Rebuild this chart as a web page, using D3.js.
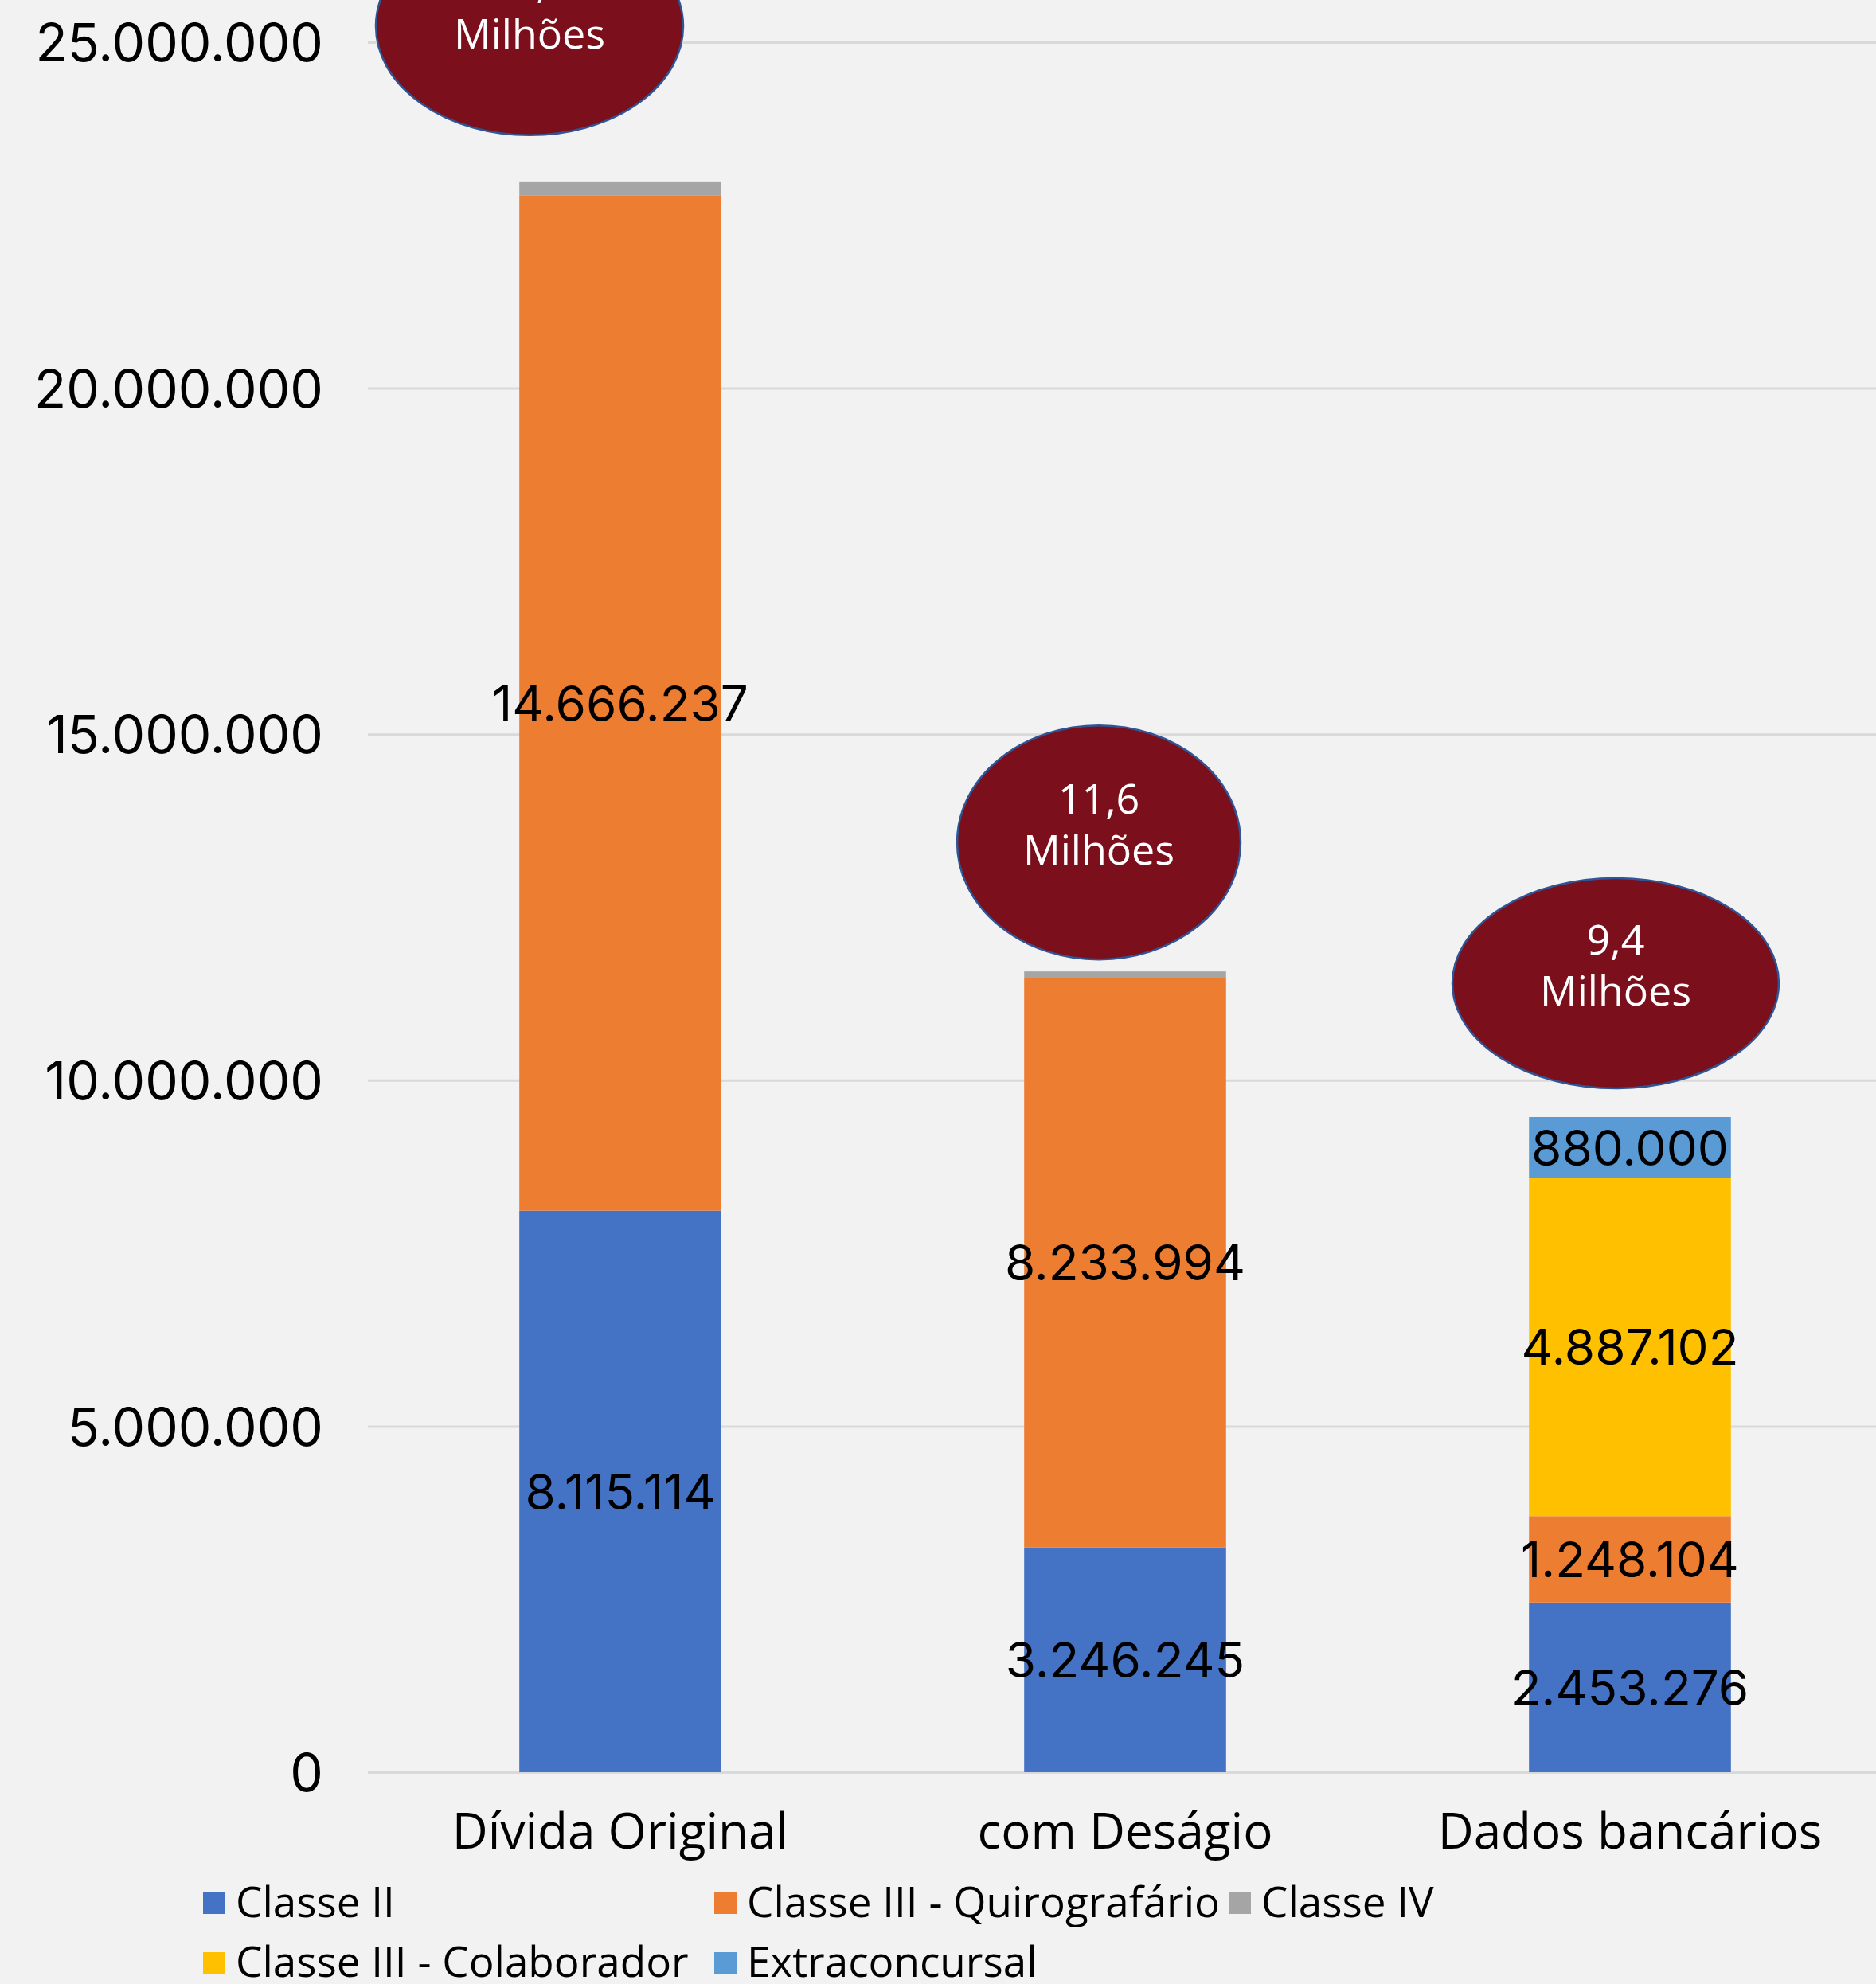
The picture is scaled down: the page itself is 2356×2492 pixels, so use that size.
<!DOCTYPE html>
<html>
<head>
<meta charset="utf-8">
<script src="https://cdn.jsdelivr.net/npm/d3@7"></script>
<style>
  body { margin: 0; background: #f2f2f2; }
  .grid line { stroke: #d9d9d9; stroke-width: 3; }
  .ytick text { font-family: Inter, sans-serif; font-size: 66px; fill: #000; }
  .xtick text { font-family: "Open Sans", sans-serif; font-size: 62px; fill: #000; }
  .valueText { font-family: Inter, sans-serif; font-size: 62px; fill: #000; text-anchor: middle; }
  .bubbleText { font-family: "Open Sans", sans-serif; font-size: 52px; fill: #fff; text-anchor: middle; }
  .legendText { font-family: "Open Sans", sans-serif; font-size: 53px; fill: #000; }
</style>
</head>
<body>
<div id="chart"></div>
<script>
// data
var categories = ['Dívida Original', 'com Deságio', 'Dados bancários'];

var seriesNames = ['Classe II', 'Classe III - Quirografário', 'Classe IV', 'Classe III - Colaborador', 'Extraconcursal'];
var seriesColors = ['#4472c4', '#ed7d31', '#a5a5a5', '#ffc000', '#5b9bd5'];

var classeII = [8115114, 3246245, 2453276];
var quirografario = [14666237, 8233994, 1248104];
var classeIV = [207000, 92000, 0];
var colaborador = [0, 0, 4887102];
var extraconcursal = [0, 0, 880000];

var yTicks = [0, 5000000, 10000000, 15000000, 20000000, 25000000];
var totalLabels = ['23,0', '11,6', '9,4'];

// svg size
var svgWidth = 2356;
var svgHeight = 2492;

// plot area (pixels)
var plotLeft = 462;
var plotRight = 2364;
var plotTop = 53;
var plotBottom = 2226;

// where each bubble sits relative to the top of its bar
var bubbleLayout = [
  { dx: -114, dy: -195, rx: 193, ry: 137 },
  { dx: -33, dy: -162, rx: 178, ry: 147 },
  { dx: -18, dy: -168, rx: 205, ry: 132 }
];

var legendCols = [255, 897, 1543];
var legendRows = [2377, 2452];

var svg = d3.select('#chart')
  .append('svg')
  .attr('width', svgWidth)
  .attr('height', svgHeight);

svg.append('rect')
  .attr('width', svgWidth)
  .attr('height', svgHeight)
  .attr('fill', '#f2f2f2');

// build table rows for d3.stack
var keys = ['c2', 'q', 'c4', 'col', 'ext'];
var table = categories.map(function(c, i) {
  return { cat: c, c2: classeII[i], q: quirografario[i], c4: classeIV[i], col: colaborador[i], ext: extraconcursal[i] };
});
var stacked = d3.stack().keys(keys)(table);

var xScale = d3.scaleBand()
  .domain(categories)
  .range([plotLeft, plotRight])
  .paddingInner(0.6)
  .paddingOuter(0.3);

var yScale = d3.scaleLinear()
  .domain([0, 25000000])
  .range([plotBottom, plotTop]);

var ptBR = d3.formatLocale({ decimal: ',', thousands: '.', grouping: [3], currency: ['R$', ''] });
var fmt = ptBR.format(',.0f');

// gridlines + y labels
var yAxis = d3.axisLeft(yScale)
  .tickValues(yTicks)
  .tickSize(-(svgWidth - plotLeft))
  .tickPadding(56)
  .tickFormat(fmt);

var yGroup = svg.append('g')
  .attr('class', 'grid ytick')
  .attr('transform', `translate(${plotLeft}, 0)`)
  .call(yAxis);
yGroup.select('.domain').remove();
yGroup.selectAll('text').attr('dy', '0.36em');

// bars
var layers = svg.selectAll('.layer')
  .data(stacked)
  .enter()
  .append('g')
  .attr('class', 'layer')
  .attr('fill', (d, i) => seriesColors[i]);

layers.selectAll('rect')
  .data(d => d)
  .enter()
  .append('rect')
  .attr('x', d => xScale(d.data.cat))
  .attr('width', xScale.bandwidth())
  .attr('y', d => yScale(d[1]))
  .attr('height', d => yScale(d[0]) - yScale(d[1]));

// value labels (not on Classe IV, too thin)
layers.filter((d, i) => keys[i] !== 'c4')
  .selectAll('text')
  .data(d => d.filter(p => p[1] - p[0] > 0))
  .enter()
  .append('text')
  .attr('class', 'valueText')
  .attr('x', d => xScale(d.data.cat) + xScale.bandwidth() / 2)
  .attr('y', d => yScale((d[0] + d[1]) / 2))
  .attr('dy', '0.36em')
  .text(d => fmt(d[1] - d[0]));

// category axis
var xAxis = d3.axisBottom(xScale).tickSize(0).tickPadding(0);
var xGroup = svg.append('g')
  .attr('class', 'xtick')
  .attr('transform', `translate(0, ${plotBottom})`)
  .call(xAxis);
xGroup.select('.domain').remove();
xGroup.selectAll('text').attr('y', 96).attr('dy', 0);

// total bubbles
var totals = table.map(d => keys.reduce((s, k) => s + d[k], 0));

var bubbles = svg.selectAll('.bubble')
  .data(categories)
  .enter()
  .append('g')
  .attr('class', 'bubble')
  .attr('transform', function(c, i) {
    var cx = xScale(c) + xScale.bandwidth() / 2 + bubbleLayout[i].dx;
    var cy = yScale(totals[i]) + bubbleLayout[i].dy;
    return `translate(${cx}, ${cy})`;
  });

bubbles.append('ellipse')
  .attr('rx', (d, i) => bubbleLayout[i].rx)
  .attr('ry', (d, i) => bubbleLayout[i].ry)
  .attr('fill', '#7b0f1b')
  .attr('stroke', '#2f5597')
  .attr('stroke-width', 2.5);

bubbles.append('text')
  .attr('class', 'bubbleText')
  .attr('y', -36)
  .text((d, i) => totalLabels[i]);

bubbles.append('text')
  .attr('class', 'bubbleText')
  .attr('y', 28)
  .text('Milhões');

// legend
var legend = svg.selectAll('.legendItem')
  .data(seriesNames)
  .enter()
  .append('g')
  .attr('class', 'legendItem')
  .attr('transform', (d, i) => `translate(${legendCols[i % 3]}, ${legendRows[Math.floor(i / 3)]})`);

legend.append('rect')
  .attr('width', 28)
  .attr('height', 27)
  .attr('fill', (d, i) => seriesColors[i]);

legend.append('text')
  .attr('class', 'legendText')
  .attr('x', 41)
  .attr('y', 31)
  .text(d => d);
</script>
</body>
</html>
